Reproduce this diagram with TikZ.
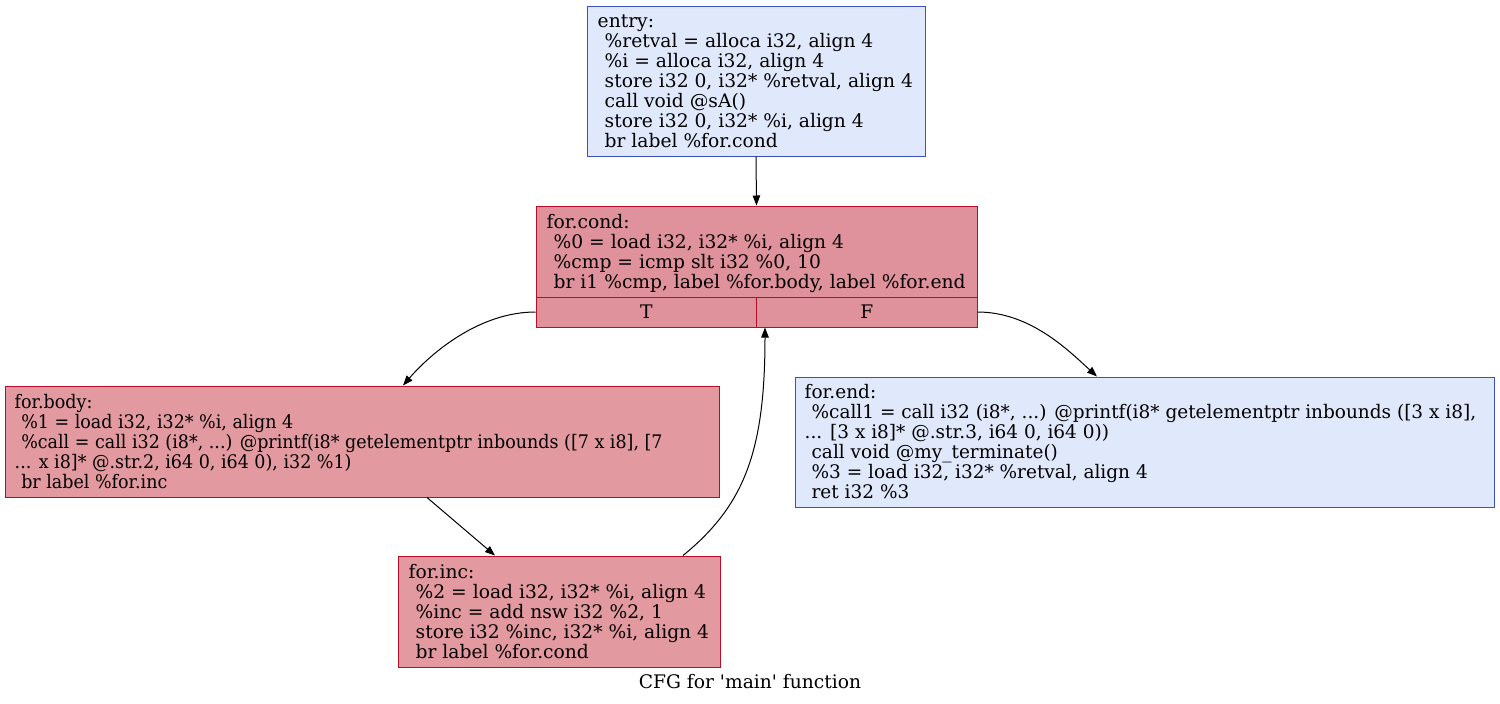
\documentclass[tikz,border=0pt]{standalone}
\usepackage{fontspec}
\setmainfont{DejaVu Serif}
\usetikzlibrary{arrows.meta}
\definecolor{bluefill}{HTML}{E0E8FB}
\definecolor{blueline}{HTML}{3D50C3}
\definecolor{condfill}{HTML}{DF929B}
\definecolor{bodyfill}{HTML}{E2999F}
\definecolor{redline}{HTML}{B70D28}
\newcommand{\ind}{\hspace*{7pt}}
\newcommand{\lines}[2]{\scalebox{#1}[1]{\begin{tabular}{@{}l@{}}#2\end{tabular}}}
\tikzset{
  box/.style={draw, line width=1pt, rectangle, inner sep=0pt},
  bluebox/.style={box, fill=bluefill, draw=blueline},
  redbox/.style={box, fill=bodyfill, draw=redline},
  condbox/.style={box, fill=condfill, draw=redline},
  txt/.style={anchor=west, inner sep=0pt, yshift=-2.5pt, font=\fontsize{18.67}{19.5}\selectfont},
  edge/.style={line width=1pt, -{Triangle[length=10pt,width=7.5pt]}},
  lbl/.style={font=\fontsize{18.67}{20}\selectfont, inner sep=0pt}
}
\begin{document}
\begin{tikzpicture}[x=1pt,y=-1pt]
\useasboundingbox (0,0) rectangle (1500,704);
\fill[white] (0,0) rectangle (1500,704);
% boxes
\node[bluebox, minimum width=338pt, minimum height=150pt] (entry) at (756,81) {};
\node[condbox, minimum width=441pt, minimum height=91pt] (cond) at (756.5,251.5) {};
\node[condbox, minimum width=220.5pt, minimum height=30pt] (condT) at (646.25,312) {};
\node[condbox, minimum width=220.5pt, minimum height=30pt] (condF) at (866.75,312) {};
\node[redbox, minimum width=714pt, minimum height=111pt] (body) at (362,441.5) {};
\node[bluebox, minimum width=699pt, minimum height=130pt] (end) at (1144.5,442) {};
\node[redbox, minimum width=322pt, minimum height=111pt] (inc) at (559,611.5) {};
% texts
\node[txt, xshift=11pt] (entrytxt) at (entry.west) {\lines{1}{entry:\\ \ind\%retval = alloca i32, align 4\\ \ind\%i = alloca i32, align 4\\ \ind store i32 0, i32* \%retval, align 4\\ \ind call void @sA()\\ \ind store i32 0, i32* \%i, align 4\\ \ind br label \%for.cond}};
\node[txt, xshift=11pt] (condtxt) at (cond.west) {\lines{1}{for.cond:\\ \ind\%0 = load i32, i32* \%i, align 4\\ \ind\%cmp = icmp slt i32 \%0, 10\\ \ind br i1 \%cmp, label \%for.body, label \%for.end}};
\node[txt, anchor=center, yshift=2.5pt] (Ttxt) at (condT.center) {T};
\node[txt, anchor=center, yshift=2.5pt] (Ftxt) at (condF.center) {F};
\node[txt, xshift=10pt] (bodytxt) at (body.west) {\lines{0.937}{for.body:\\ \ind\%1 = load i32, i32* \%i, align 4\\ \ind\%call = call i32 (i8*, ...) @printf(i8* getelementptr inbounds ([7 x i8], [7\\ ... x i8]* @.str.2, i64 0, i64 0), i32 \%1)\\ \ind br label \%for.inc}};
\node[txt, xshift=10pt] (endtxt) at (end.west) {\lines{0.99}{for.end:\\ \ind\%call1 = call i32 (i8*, ...) @printf(i8* getelementptr inbounds ([3 x i8],\\ ... [3 x i8]* @.str.3, i64 0, i64 0))\\ \ind call void @my\_terminate()\\ \ind\%3 = load i32, i32* \%retval, align 4\\ \ind ret i32 \%3}};
\node[txt, xshift=11pt] (inctxt) at (inc.west) {\lines{1}{for.inc:\\ \ind\%2 = load i32, i32* \%i, align 4\\ \ind\%inc = add nsw i32 \%2, 1\\ \ind store i32 \%inc, i32* \%i, align 4\\ \ind br label \%for.cond}};
\node[lbl] (title) at (750,682) {CFG for \textquotesingle main\textquotesingle\ function};
% edges
\draw[edge] (entry.south) -- (cond.north);
\draw[edge] (condT.west) .. controls (480,312) and (432,352) .. (body.north -| 403,0);
\draw[edge] (condF.east) .. controls (1030,312) and (1068,350) .. (end.north -| 1097,0);
\draw[edge] (body.south -| 427,0) -- (inc.north -| 495,0);
\draw[edge] (inc.north -| 683,0) .. controls (745,505) and (765,450) .. (condT.south -| 765,0);
\end{tikzpicture}
\end{document}
